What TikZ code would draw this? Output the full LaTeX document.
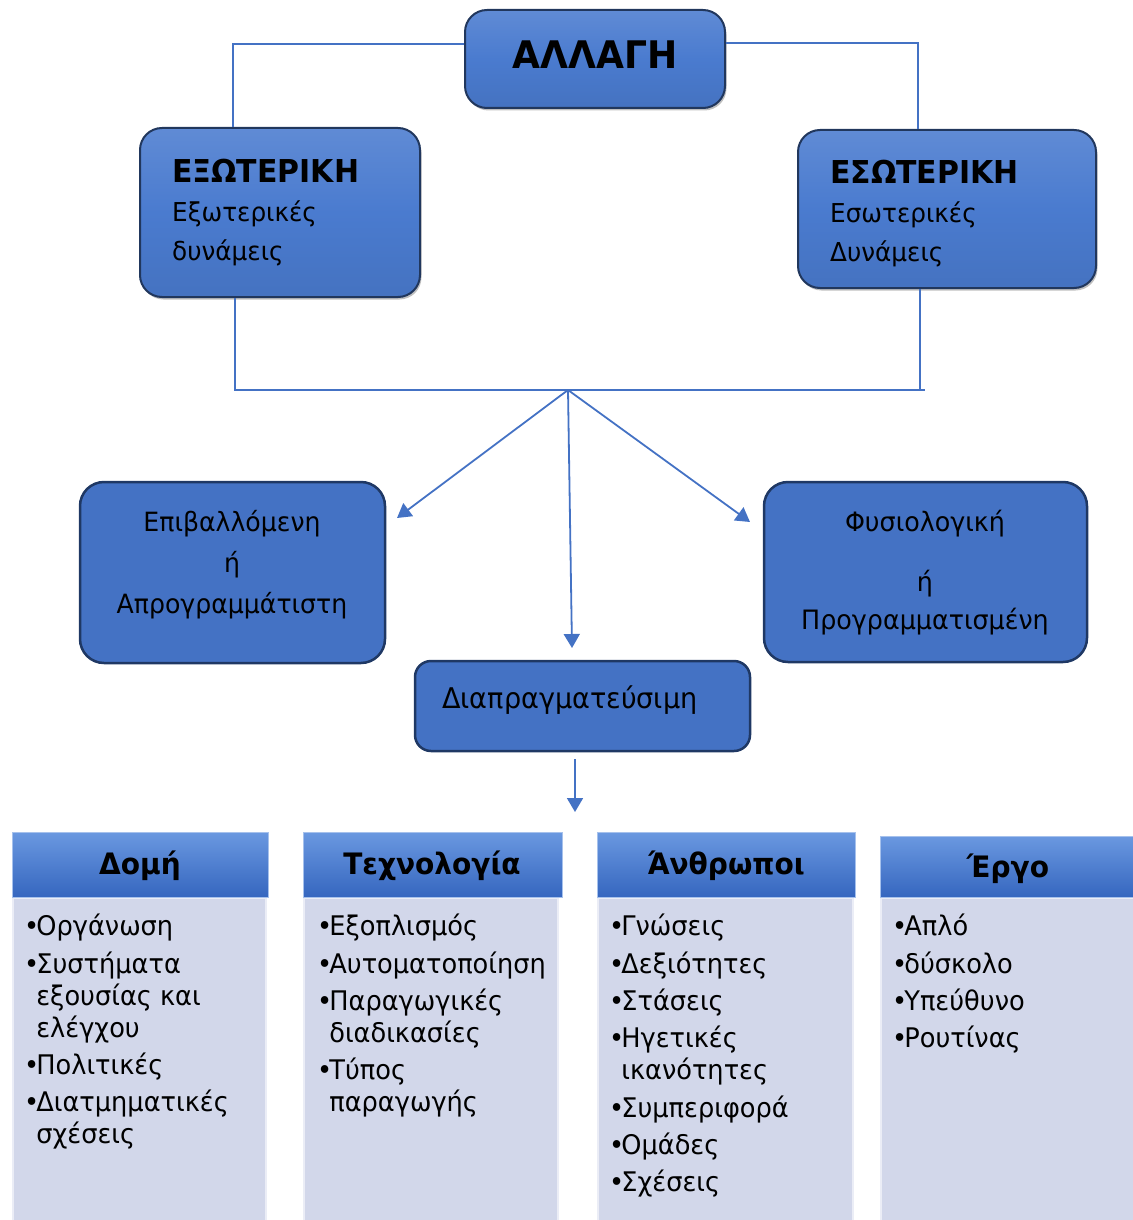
\documentclass[tikz,border=0pt]{standalone}
\usepackage{fontspec}
\setmainfont{DejaVu Sans}[FakeStretch=0.95]
\usetikzlibrary{arrows.meta,shadows}
\definecolor{bblue}{HTML}{4472C4}
\definecolor{gblue}{HTML}{4A7BCF}
\definecolor{dborder}{HTML}{1F3864}
\definecolor{bodyc}{HTML}{D2D7EA}
\definecolor{hdtop}{HTML}{6A98E0}
\definecolor{hdbot}{HTML}{3566BF}
\tikzset{
  glossy/.style={rounded corners=22pt, draw=gblue!45!black, line width=2pt,
    top color=gblue!88!white, bottom color=gblue!93!black, middle color=gblue,
    drop shadow={shadow xshift=1.5pt, shadow yshift=-2.5pt, opacity=0.5}},
  flat/.style={rounded corners=24pt, fill=bblue, draw=dborder, line width=2.5pt},
  conn/.style={draw=bblue, line width=1.8pt},
  arr/.style={conn, -{Triangle[width=16pt,length=14pt]}},
  hdr/.style={top color=hdtop, bottom color=hdbot, draw=hdtop!60!white, line width=1pt,
    font=\fontsize{29.5}{34}\selectfont\bfseries, text=black, inner sep=0pt},
  colbody/.style={fill=bodyc, draw=white!55!bodyc, line width=2pt, inner sep=0pt},
  items/.style={align=left, anchor=north west, inner sep=0pt,
    font=\fontsize{27}{32}\selectfont, text=black},
  txt/.style={text=black, inner sep=0pt}
}
\newcommand{\bl}{•\kern-3pt}
\newcommand{\ind}{\phantom{•}\kern-3pt}
\begin{document}
\begin{tikzpicture}[x=1pt,y=-1pt]
\useasboundingbox (0,0) rectangle (1132,1220);
% top boxes
\node[glossy, minimum width=260pt, minimum height=98pt] (allagi) at (595,59) {};
\node[txt, font=\fontsize{38}{40}\selectfont\bfseries] (allagit) at (595,55) {ΑΛΛΑΓΗ};
\node[glossy, minimum width=280pt, minimum height=169pt] (ext) at (280,212.5) {};
\node[txt, anchor=west, align=left, font=\fontsize{26}{39}\selectfont] (extt) at (172,212.5)
  {{\fontsize{31.5}{39}\selectfont\bfseries ΕΞΩΤΕΡΙΚΗ}\\Εξωτερικές\\δυνάμεις};
\node[glossy, minimum width=298pt, minimum height=158pt] (int) at (947,209) {};
\node[txt, anchor=west, align=left, font=\fontsize{26}{39}\selectfont] (intt) at (830,214)
  {{\fontsize{31.5}{39}\selectfont\bfseries ΕΣΩΤΕΡΙΚΗ}\\Εσωτερικές\\Δυνάμεις};
% connectors top
\draw[conn] ([yshift=15pt]allagi.west) -| ([xshift=-47pt]ext.north);
\draw[conn] ([yshift=16pt]allagi.east) -| ([xshift=-29pt]int.north);
\coordinate (hr) at (925,390);
\coordinate (j) at (568,390);
\draw[conn] ([xshift=-45pt]ext.south) |- (hr);
\draw[conn] ([xshift=-27pt]int.south) -- ([xshift=-27pt]int.south |- hr);
% middle boxes
\node[flat, minimum width=305pt, minimum height=181pt] (epib) at (232.5,572.5) {};
\node[txt, align=center, font=\fontsize{26.5}{41}\selectfont] (epibt) at (232,565) {Επιβαλλόμενη\\ή\\Απρογραμμάτιστη};
\node[flat, minimum width=323pt, minimum height=180pt] (fys) at (925.5,572) {};
\node[txt, align=center, font=\fontsize{26.7}{38}\selectfont] (fyst) at (925,573) {Φυσιολογική\\[22pt]ή\\Προγραμματισμένη};
\node[flat, rounded corners=16pt, minimum width=335pt, minimum height=90pt] (diap) at (582.5,706) {};
\node[txt, anchor=west, font=\fontsize{28.5}{31}\selectfont] (diapt) at (442,700) {Διαπραγματεύσιμη};
% arrows
\coordinate (aL) at (397,518);
\coordinate (aM) at (572,648);
\coordinate (aR) at (750,522);
\coordinate (aB) at (575,812);
\draw[arr] (j) -- (aL);
\draw[arr] (j) -- (aM);
\draw[arr] (j) -- (aR);
\draw[arr] ([xshift=-7.5pt,yshift=-7pt]diap.south) -- (aB);
% columns
\node[colbody, anchor=north west, minimum width=253pt, minimum height=323pt] (b1) at (12,897) {};
\node[colbody, anchor=north west, minimum width=254pt, minimum height=323pt] (b2) at (303,897) {};
\node[colbody, anchor=north west, minimum width=255pt, minimum height=323pt] (b3) at (597,897) {};
\node[colbody, anchor=north west, minimum width=254pt, minimum height=323pt] (b4) at (880,897) {};
\node[hdr, anchor=north west, minimum width=256pt, minimum height=65pt] (h1) at (12,832) {};
\node[hdr, anchor=north west, minimum width=259pt, minimum height=65pt] (h2) at (303,832) {};
\node[hdr, anchor=north west, minimum width=258pt, minimum height=65pt] (h3) at (597,832) {};
\node[hdr, anchor=north west, minimum width=254pt, minimum height=61pt] (h4) at (880,836) {};
\node[txt, font=\fontsize{29.5}{34}\selectfont\bfseries] (h1t) at (140,866) {Δομή};
\node[txt, font=\fontsize{29.5}{34}\selectfont\bfseries] (h2t) at (432,866) {Τεχνολογία};
\node[txt, font=\fontsize{29.5}{34}\selectfont\bfseries] (h3t) at (726,866) {Άνθρωποι};
\node[txt, font=\fontsize{29.5}{34}\selectfont\bfseries] (h4t) at (1008,869) {Έργο};
\node[items] (t1) at (24,914) {\bl Οργάνωση\\[5.3pt]\bl Συστήματα\\\ind εξουσίας και\\\ind ελέγχου\\[5.3pt]\bl Πολιτικές\\[5.3pt]\bl Διατμηματικές\\\ind σχέσεις};
\node[items] (t2) at (317,914) {\bl Εξοπλισμός\\[5.3pt]\bl Αυτοματοποίηση\\[5.3pt]\bl Παραγωγικές\\\ind διαδικασίες\\[5.3pt]\bl Τύπος\\\ind παραγωγής};
\node[items] (t3) at (609,914) {\bl Γνώσεις\\[5.3pt]\bl Δεξιότητες\\[5.3pt]\bl Στάσεις\\[5.3pt]\bl Ηγετικές\\\ind ικανότητες\\[5.3pt]\bl Συμπεριφορά\\[5.3pt]\bl Ομάδες\\[5.3pt]\bl Σχέσεις};
\node[items] (t4) at (892,914) {\bl Απλό\\[5.3pt]\bl δύσκολο\\[5.3pt]\bl Υπεύθυνο\\[5.3pt]\bl Ρουτίνας};
\end{tikzpicture}
\end{document}
